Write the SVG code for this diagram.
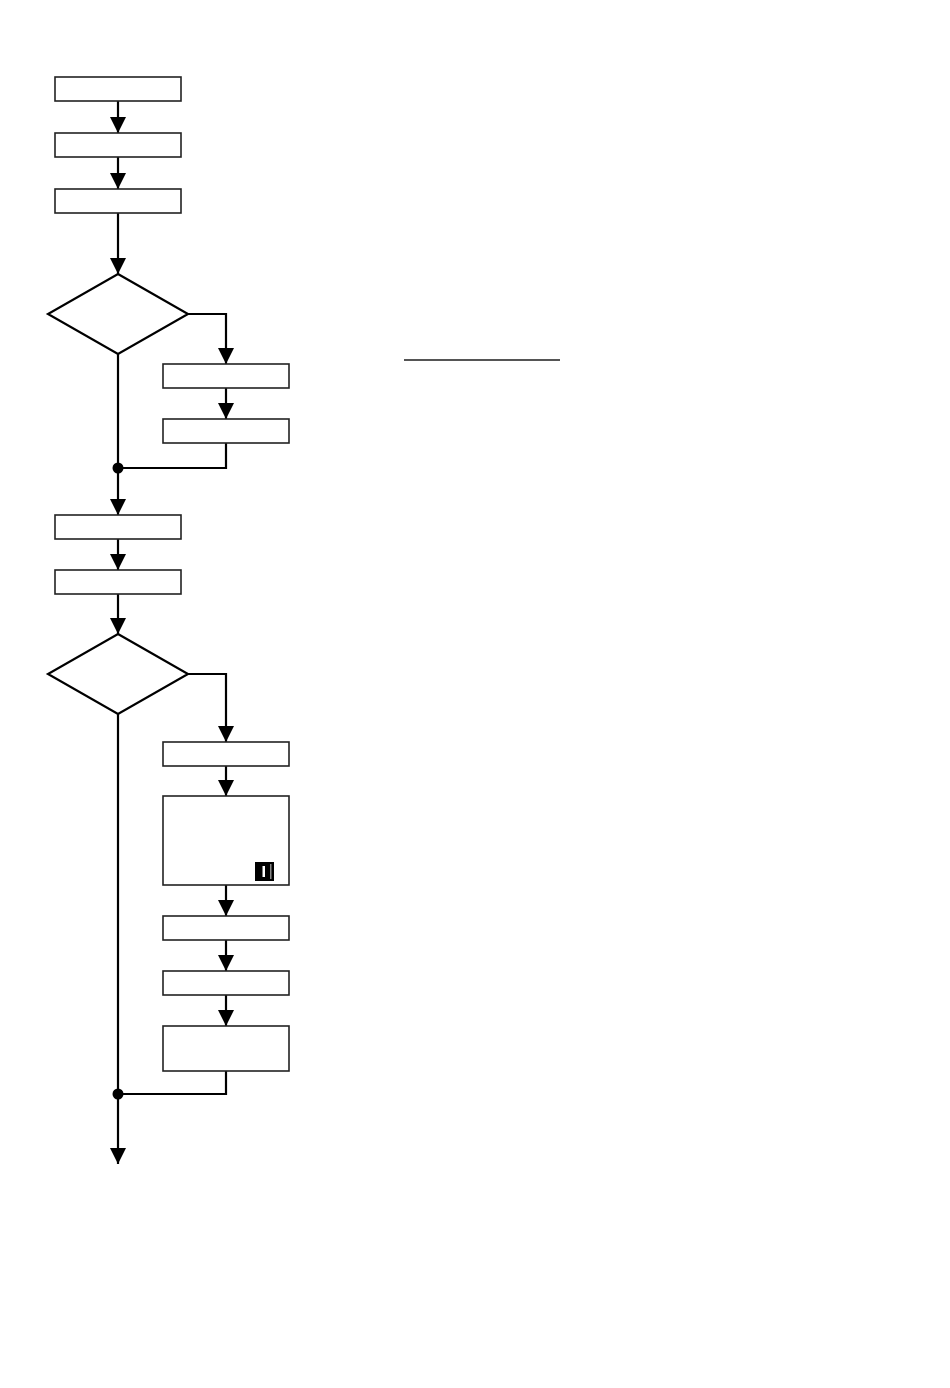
<svg xmlns="http://www.w3.org/2000/svg" width="950" height="1388" viewBox="0 0 950 1388">
<style>
.box{fill:#fff;stroke:#222;stroke-width:1.6}
.dia{fill:#fff;stroke:#000;stroke-width:2.2}
.con{fill:none;stroke:#000;stroke-width:2.2}
.dot{fill:#000}
</style>
<defs>
<marker id="ah" markerUnits="userSpaceOnUse" markerWidth="16" markerHeight="16" viewBox="0 0 16 16" refX="16" refY="8" orient="auto">
<path d="M0,0 L16,8 L0,16 Z" fill="#000"/>
</marker>
</defs>
<rect width="950" height="1388" fill="#fff"/>
<g id="connectors">
<line class="con" x1="118" y1="101" x2="118" y2="133" marker-end="url(#ah)"/>
<line class="con" x1="118" y1="157" x2="118" y2="189" marker-end="url(#ah)"/>
<line class="con" x1="118" y1="213" x2="118" y2="274" marker-end="url(#ah)"/>
<polyline class="con" points="188,314 226,314 226,364" marker-end="url(#ah)"/>
<line class="con" x1="226" y1="388" x2="226" y2="419" marker-end="url(#ah)"/>
<polyline class="con" points="226,443 226,468 118,468"/>
<line class="con" x1="118" y1="354" x2="118" y2="468"/>
<line class="con" x1="118" y1="468" x2="118" y2="515" marker-end="url(#ah)"/>
<line class="con" x1="118" y1="539" x2="118" y2="570" marker-end="url(#ah)"/>
<line class="con" x1="118" y1="594" x2="118" y2="634" marker-end="url(#ah)"/>
<polyline class="con" points="188,674 226,674 226,742" marker-end="url(#ah)"/>
<line class="con" x1="226" y1="766" x2="226" y2="796" marker-end="url(#ah)"/>
<line class="con" x1="226" y1="885" x2="226" y2="916" marker-end="url(#ah)"/>
<line class="con" x1="226" y1="940" x2="226" y2="971" marker-end="url(#ah)"/>
<line class="con" x1="226" y1="995" x2="226" y2="1026" marker-end="url(#ah)"/>
<polyline class="con" points="226,1071 226,1094 118,1094"/>
<line class="con" x1="118" y1="714" x2="118" y2="1094"/>
<line class="con" x1="118" y1="1094" x2="118" y2="1164" marker-end="url(#ah)"/>
<circle class="dot" cx="118" cy="468" r="5.5"/>
<circle class="dot" cx="118" cy="1094" r="5.5"/>
</g>
<g id="n1"><rect class="box" x="55" y="77" width="126" height="24"/></g>
<g id="n2"><rect class="box" x="55" y="133" width="126" height="24"/></g>
<g id="n3"><rect class="box" x="55" y="189" width="126" height="24"/></g>
<g id="d1"><polygon class="dia" points="118,274 188,314 118,354 48,314"/></g>
<g id="n4"><rect class="box" x="163" y="364" width="126" height="24"/></g>
<g id="n5"><rect class="box" x="163" y="419" width="126" height="24"/></g>
<g id="n6"><rect class="box" x="55" y="515" width="126" height="24"/></g>
<g id="n7"><rect class="box" x="55" y="570" width="126" height="24"/></g>
<g id="d2"><polygon class="dia" points="118,634 188,674 118,714 48,674"/></g>
<g id="n8"><rect class="box" x="163" y="742" width="126" height="24"/></g>
<g id="n9">
<rect class="box" x="163" y="796" width="126" height="89"/>
<rect x="255" y="862" width="19" height="19" fill="#000"/>
<rect x="262.5" y="866" width="2.5" height="11" fill="#fff"/>
<rect x="270" y="864" width="1.5" height="15" fill="#888"/>
</g>
<g id="n10"><rect class="box" x="163" y="916" width="126" height="24"/></g>
<g id="n11"><rect class="box" x="163" y="971" width="126" height="24"/></g>
<g id="n12"><rect class="box" x="163" y="1026" width="126" height="45"/></g>
<g id="rule"><line x1="404" y1="360" x2="560" y2="360" stroke="#555" stroke-width="1.8"/></g>
</svg>
